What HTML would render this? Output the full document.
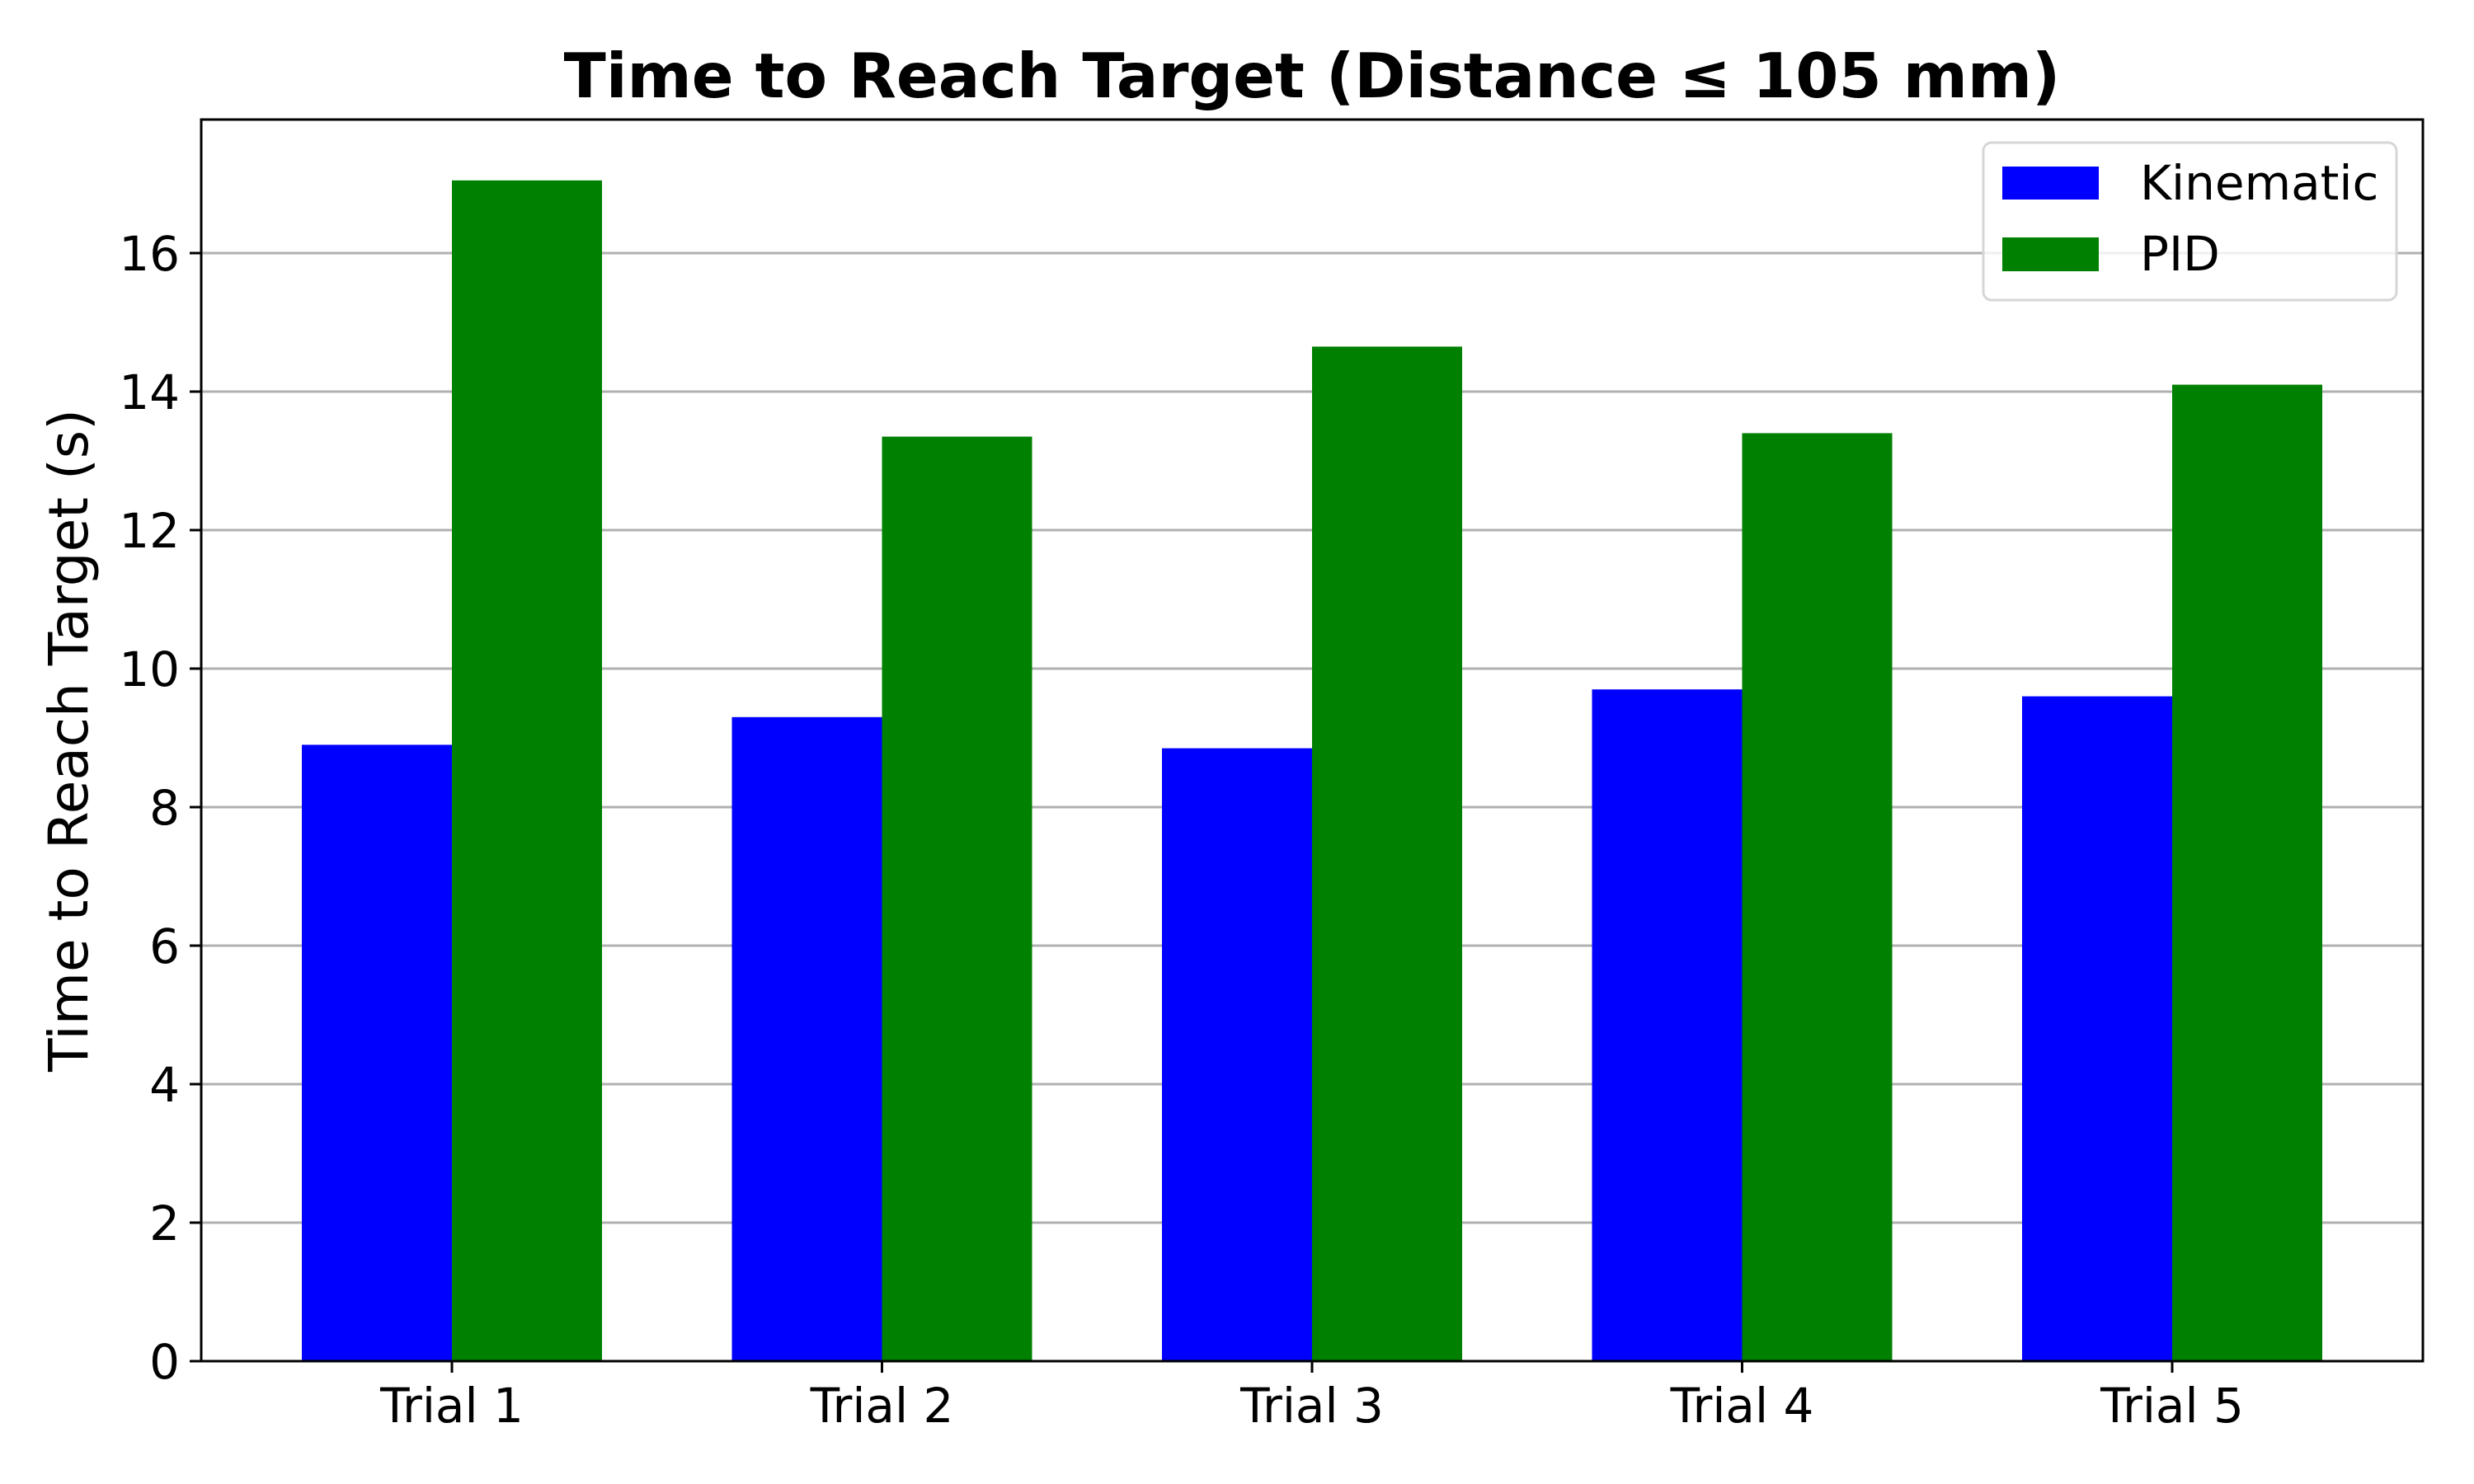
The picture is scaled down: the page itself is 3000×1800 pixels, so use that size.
<!DOCTYPE html>
<html><head><meta charset="utf-8"><style>html,body{margin:0;padding:0;background:#fff}svg{display:block}text{font-family:"DejaVu Sans","Liberation Sans",sans-serif}</style></head>
<body>
<svg id="chart" width="3000" height="1800" viewBox="0 0 3000 1800" xmlns="http://www.w3.org/2000/svg">
<rect width="3000" height="1800" fill="#fff"/>
<text x="1591" y="118" font-size="75" font-weight="bold" text-anchor="middle">Time to Reach Target (Distance ≤ 105 mm)</text>
<text transform="translate(106,898) rotate(-90)" font-size="66" text-anchor="middle">Time to Reach Target (s)</text>
<g id="grid"></g><g id="bars"></g><g id="ticks"></g>
<rect x="244" y="145" width="2694" height="1506" fill="none" stroke="#000" stroke-width="3"/>
<g>
<rect x="2405" y="173" width="501" height="191" rx="10" fill="#fff" fill-opacity="0.8" stroke="#d6d6d6" stroke-width="3"/>
<rect x="2428" y="202" width="117" height="40" fill="#0000ff"/>
<text x="2595" y="242" font-size="58">Kinematic</text>
<rect x="2428" y="288" width="117" height="41" fill="#008000"/>
<text x="2595" y="328" font-size="58">PID</text>
</g>
</svg>
<script>
const categories = ["Trial 1","Trial 2","Trial 3","Trial 4","Trial 5"];
const kinematic = [8.9, 9.3, 8.85, 9.7, 9.6];
const pid = [17.05, 13.35, 14.65, 13.4, 14.1];
const yTicks = [0,2,4,6,8,10,12,14,16];
const NS="http://www.w3.org/2000/svg";
const x0=548, step=521.5, barW=182;
const yPix = v => 1651 - v*84;
const xPix = i => x0 + i*step;
function mk(tag, attrs, parent){const e=document.createElementNS(NS,tag);for(const k in attrs)e.setAttribute(k,attrs[k]);parent.appendChild(e);return e;}
const grid=document.getElementById('grid'), bars=document.getElementById('bars'), ticks=document.getElementById('ticks');
yTicks.forEach(t=>{
  const y=yPix(t);
  const g=mk('line',{x1:244,x2:2938,y1:y,y2:y,stroke:'#b0b0b0','stroke-width':3},grid);
  
  
  const tk=mk('line',{x1:230,x2:244,y1:y,y2:y,stroke:'#000','stroke-width':3},ticks);
  
  
  const lb=mk('text',{x:218,y:y+21,'font-size':58,'text-anchor':'end'},ticks);
  lb.textContent=t;
  
  
});
categories.forEach((c,i)=>{
  const cx=xPix(i);
  const b1=mk('rect',{x:cx-barW,y:yPix(kinematic[i]),width:barW,height:yPix(0)-yPix(kinematic[i]),fill:'#0000ff'},bars);
  
  
  const b2=mk('rect',{x:cx,y:yPix(pid[i]),width:barW,height:yPix(0)-yPix(pid[i]),fill:'#008000'},bars);
  
  
  const tk=mk('line',{x1:cx,x2:cx,y1:1651,y2:1665,stroke:'#000','stroke-width':3},ticks);
  
  
  const lb=mk('text',{x:cx,y:1725,'font-size':58,'text-anchor':'middle'},ticks);
  lb.textContent=c;
  
  
});
</script>
</body></html>
